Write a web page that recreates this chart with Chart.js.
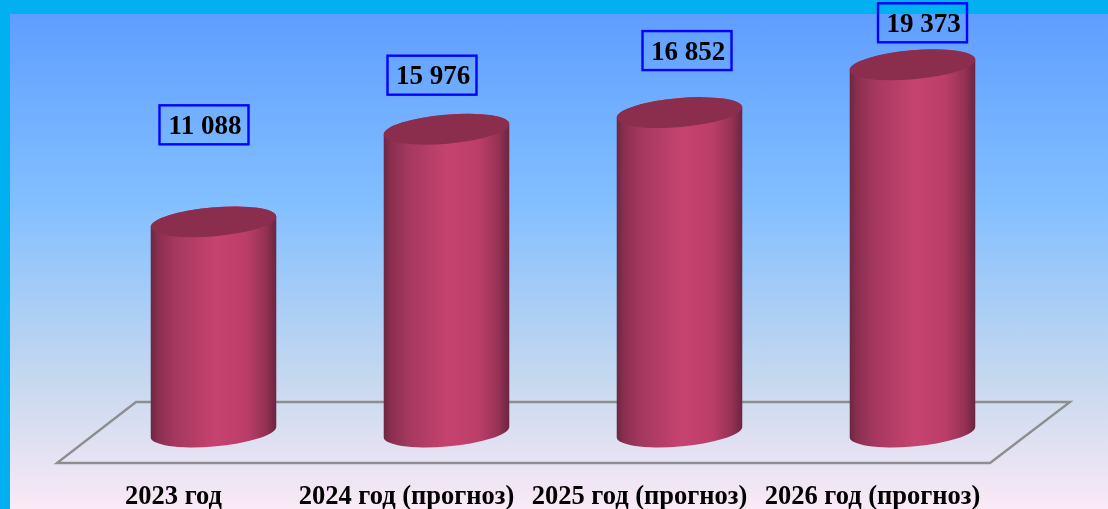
<!DOCTYPE html>
<html>
<head>
<meta charset="utf-8">
<title>Chart</title>
<script src="https://cdn.jsdelivr.net/npm/chart.js@4"></script>
<style>
  html, body { margin: 0; padding: 0; width: 1108px; height: 509px; overflow: hidden; background: #00b0f0; }
  #panel {
    position: absolute; left: 10px; top: 14px; width: 1098px; height: 495px;
    background: linear-gradient(180deg, #5f9eff 0%, #82bfff 38%, #c8d9ef 75%, #fbe9f6 100%);
  }
  #wrap { position: absolute; left: 0; top: 0; width: 1108px; height: 509px; }
</style>
</head>
<body>
<div id="panel"></div>
<div id="wrap"><canvas id="chart" width="1108" height="509"></canvas></div>
<script>
// ========= Data =========
const categories = ['2023 год', '2024 год (прогноз)', '2025 год (прогноз)', '2026 год (прогноз)'];
const values = [11088, 15976, 16852, 19373];
const valueLabels = ['11 088', '15 976', '16 852', '19 373'];

// the boxes were placed by hand in the original, so they don't follow the bars evenly
const boxShiftX = [-9.5, -14.5, 7.5, 10];
const boxShiftY = [-97, -54, -62, -42];

const serif = '"Liberation Serif", "Times New Roman", serif';

// ========= Cylinders =========
const tilt = -5 * Math.PI / 180;
const ryCap = 14.5;

function ellipseTurn(rx, ry) {
  return Math.atan2(-ry * Math.sin(tilt), rx * Math.cos(tilt));
}

function bodyGradient(ctx, x0, x1) {
  const g = ctx.createLinearGradient(x0, 0, x1, 0);
  g.addColorStop(0, '#6b2640');
  g.addColorStop(0.06, '#8a2f50');
  g.addColorStop(0.2, '#a5385f');
  g.addColorStop(0.52, '#c6436f');
  g.addColorStop(0.76, '#bb3e68');
  g.addColorStop(0.91, '#963255');
  g.addColorStop(1, '#6a2540');
  return g;
}

const cylinders = {
  id: 'cylinders',
  afterDatasetsDraw(chart) {
    const ctx = chart.ctx;
    chart.getDatasetMeta(0).data.forEach((bar) => {
      const rx = bar.width / 2;
      const t0 = ellipseTurn(rx, ryCap);
      ctx.save();
      ctx.beginPath();
      ctx.ellipse(bar.x, bar.y, rx, ryCap, tilt, t0 + Math.PI, t0 + 2 * Math.PI);
      ctx.ellipse(bar.x, bar.base, rx, ryCap, tilt, t0, t0 + Math.PI);
      ctx.closePath();
      ctx.fillStyle = bodyGradient(ctx, bar.x - rx, bar.x + rx);
      ctx.fill();
      ctx.beginPath();
      ctx.ellipse(bar.x, bar.y, rx, ryCap, tilt, 0, 2 * Math.PI);
      ctx.fillStyle = '#8b2e4e';
      ctx.fill();
      ctx.restore();
    });
  }
};

// ========= Floor =========
const floorPlane = {
  id: 'floorPlane',
  beforeDatasetsDraw(chart) {
    const ctx = chart.ctx;
    const base = chart.scales.y.getPixelForValue(0);
    ctx.save();
    ctx.beginPath();
    ctx.moveTo(57, base + 31);
    ctx.lineTo(990, base + 31);
    ctx.lineTo(1070, base - 30);
    ctx.lineTo(136, base - 30);
    ctx.closePath();
    ctx.lineWidth = 2.4;
    ctx.strokeStyle = '#8e8e8e';
    ctx.stroke();
    ctx.restore();
  }
};

// ========= Value boxes =========
const valueBoxes = {
  id: 'valueBoxes',
  afterDraw(chart) {
    const ctx = chart.ctx;
    chart.getDatasetMeta(0).data.forEach((bar, i) => {
      const cx = bar.x + boxShiftX[i];
      const cy = bar.y + boxShiftY[i];
      ctx.save();
      ctx.strokeStyle = '#0000ff';
      ctx.lineWidth = 2.4;
      ctx.strokeRect(cx - 44.5, cy - 19.5, 89, 39);
      ctx.fillStyle = '#000';
      ctx.font = 'bold 27px ' + serif;
      ctx.textAlign = 'center';
      ctx.textBaseline = 'middle';
      ctx.fillText(valueLabels[i], cx + 1, cy + 2);
      ctx.restore();
    });
  }
};

new Chart(document.getElementById('chart').getContext('2d'), {
  type: 'bar',
  data: {
    labels: categories,
    datasets: [{
      data: values,
      backgroundColor: 'transparent',
      borderWidth: 0,
      barThickness: 126
    }]
  },
  plugins: [floorPlane, cylinders, valueBoxes],
  options: {
    responsive: false,
    animation: false,
    layout: { padding: { left: 97, right: 79, top: 15, bottom: 0 } },
    plugins: { legend: { display: false }, tooltip: { enabled: false } },
    scales: {
      x: {
        border: { display: false },
        grid: { display: false, drawTicks: false },
        afterFit(scale) { scale.height = 77; },
        ticks: {
          color: '#000',
          font: { family: serif, size: 26.5, weight: 'bold' },
          labelOffset: -40,
          padding: 49,
          maxRotation: 0,
          autoSkip: false
        }
      },
      y: { display: false, min: 0, max: 22000 }
    }
  }
});
</script>
</body>
</html>
